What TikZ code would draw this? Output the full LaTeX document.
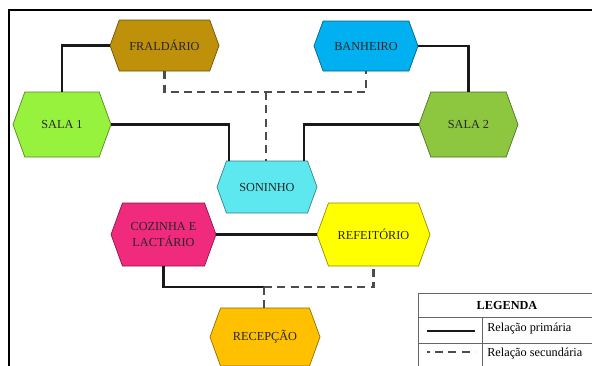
\documentclass[tikz,border=0pt]{standalone}
\usepackage{fontspec}
\setmainfont{Liberation Serif}
\usetikzlibrary{shapes.symbols, calc}

\definecolor{fralcol}{RGB}{191,144,10}
\definecolor{banhcol}{RGB}{0,176,240}
\definecolor{salaacol}{RGB}{150,242,60}
\definecolor{salabcol}{RGB}{141,198,63}
\definecolor{sonicol}{RGB}{92,232,238}
\definecolor{cozcol}{RGB}{240,42,125}
\definecolor{refcol}{RGB}{255,255,0}
\definecolor{reccol}{RGB}{255,192,0}

\begin{document}
\begin{tikzpicture}[
    x=0.75pt, y=-0.75pt,
    font=\fontsize{9.2}{12}\selectfont,
    hexbox/.style={shape=signal, signal to=west and east, signal pointer angle=140,
        draw=#1!55!black, fill=#1, line width=0.5pt, inner sep=0pt, align=center, text=black!85},
    prim/.style={line width=1.8pt, black!90},
    sec/.style={line width=1.6pt, black!70, dash pattern=on 6pt off 4pt},
    legline/.style={line width=0.5pt, black!60}
]
\useasboundingbox (0,0) rectangle (592,365);

% FRAME
\draw[line width=1.5pt] (600,10) -- (9,10) -- (9,375);

% TOP ROW
\node[hexbox=fralcol, minimum width=81.75pt, minimum height=38.25pt] (fral) at (164.5,45.5) {FRALDÁRIO};
\node[hexbox=banhcol, minimum width=78pt, minimum height=37.5pt] (banh) at (366,46) {BANHEIRO};

% SALAS
\node[hexbox=salaacol, minimum width=73.5pt, minimum height=48.75pt] (sala1) at (62,124.5) {SALA 1};
\node[hexbox=salabcol, minimum width=74.25pt, minimum height=48.75pt] (sala2) at (468.5,124.5) {SALA 2};

% CENTRE
\node[hexbox=sonicol, minimum width=75pt, minimum height=39pt] (soni) at (267,187) {SONINHO};

% BOTTOM
\node[hexbox=cozcol, minimum width=78.75pt, minimum height=47.25pt] (coz) at (163.5,234.5) {COZINHA E\\LACTÁRIO};
\node[hexbox=refcol, minimum width=84.75pt, minimum height=47.25pt] (refe) at (373.5,234.5) {REFEITÓRIO};
\node[hexbox=reccol, minimum width=82.5pt, minimum height=43.5pt] (recep) at (265,337) {RECEPÇÃO};

% PRIMARY RELATIONS
\draw[prim] (sala1.north) |- (fral.west);
\draw[prim] (banh.east) -| (sala2.north);
\draw[prim] (sala1.east) -| ($(soni.north)+(-38,0)$);
\draw[prim] (sala2.west) -| ($(soni.north)+(37,0)$);
\draw[prim] (coz.east) -- (refe.west);

% SECONDARY RELATIONS
\coordinate (jtop) at (266,92);
\coordinate (jbot) at (264,287);
\draw[sec] (fral.south) |- (jtop) -| (banh.south);
\draw[sec] (jtop) -- (jtop |- soni.north);
\draw[prim] (coz.south) |- (jbot);
\draw[sec] (jbot) -| (refe.south);
\draw[sec] (jbot) -- (jbot |- recep.north);

% LEGEND
\draw[legline] (418,293) rectangle (596,370);
\draw[legline] (418,317) -- (596,317);
\draw[legline] (418,343) -- (596,343);
\draw[legline] (482,317) -- (482,370);
\node[font=\fontsize{9.2}{12}\selectfont\bfseries] (legtitle) at (507,305) {LEGENDA};
\node[anchor=west, inner sep=0pt] (legprim) at (487,329) {Relação primária};
\node[anchor=west, inner sep=0pt] (legsec) at (487,354) {Relação secundária};
\coordinate (lp1) at (427,331);
\coordinate (lp2) at (475,331);
\draw[prim] (lp1) -- (lp2);
\coordinate (ls1) at (427,352);
\coordinate (ls2) at (475,352);
\draw[sec, dash phase=4pt] (ls1) -- (ls2);

\end{tikzpicture}
\end{document}
